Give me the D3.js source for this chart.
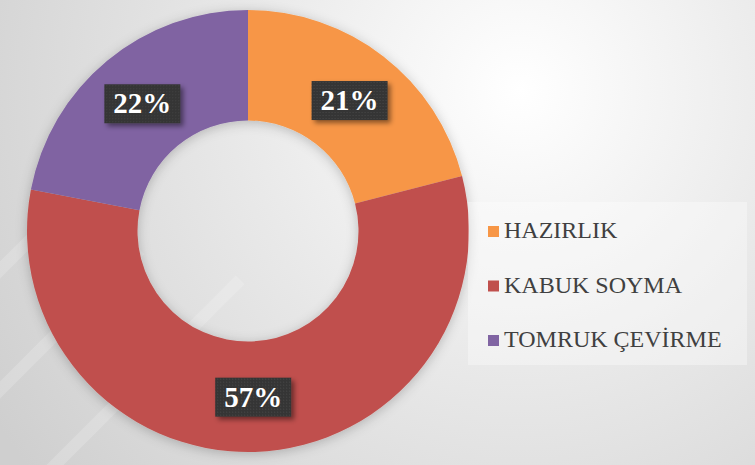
<!DOCTYPE html>
<html>
<head>
<meta charset="utf-8">
<script src="https://cdn.jsdelivr.net/npm/d3@7"></script>
<style>
  body { margin: 0; background: #fff; }
  svg { display: block; }
  .serif { font-family: "Liberation Serif", "Times New Roman", Tinos, "DejaVu Serif", serif; }
</style>
</head>
<body>
<div id="chart"></div>
<script>
// data
const categories = ["HAZIRLIK", "KABUK SOYMA", "TOMRUK ÇEVİRME"];
const values = [21, 57, 22];
const colors = ["#F79646", "#C0504D", "#8064A2"];

const width = 755, height = 465;
const cx = 248, cy = 231;
const outerR = 221, innerR = 110.5;

const svg = d3.select("#chart")
  .append("svg")
  .attr("width", width)
  .attr("height", height);

const defs = svg.append("defs");

// background gradient
const bg = defs.append("radialGradient")
  .attr("id", "bg")
  .attr("gradientUnits", "userSpaceOnUse")
  .attr("cx", 520).attr("cy", 90).attr("r", 620);
bg.append("stop").attr("offset", "0%").attr("stop-color", "#ffffff");
bg.append("stop").attr("offset", "45%").attr("stop-color", "#e9e9e9");
bg.append("stop").attr("offset", "100%").attr("stop-color", "#cfcfcf");

const shadow = defs.append("filter").attr("id", "shadow")
  .attr("x", "-20%").attr("y", "-20%").attr("width", "140%").attr("height", "140%");
shadow.append("feDropShadow")
  .attr("dx", 0).attr("dy", 2).attr("stdDeviation", 6)
  .attr("flood-color", "#000").attr("flood-opacity", 0.22);

const boxShadow = defs.append("filter").attr("id", "boxShadow")
  .attr("x", "-30%").attr("y", "-30%").attr("width", "160%").attr("height", "160%");
boxShadow.append("feDropShadow")
  .attr("dx", 3).attr("dy", 3).attr("stdDeviation", 2.5)
  .attr("flood-color", "#000").attr("flood-opacity", 0.45);

// dotted texture for label boxes
const pat = defs.append("pattern").attr("id", "dots")
  .attr("width", 3).attr("height", 3).attr("patternUnits", "userSpaceOnUse");
pat.append("rect").attr("width", 3).attr("height", 3).attr("fill", "#343434");
pat.append("rect").attr("width", 1).attr("height", 1).attr("fill", "#4a4a4a");

svg.append("rect")
  .attr("width", width).attr("height", height)
  .attr("fill", "url(#bg)");

// faint watermark stripes
const stripes = svg.append("g").attr("opacity", 0.18);
[[-60, 330], [-60, 450], [40, 480]].forEach(([x0, y0]) => {
  stripes.append("line")
    .attr("x1", x0).attr("y1", y0)
    .attr("x2", x0 + 200).attr("y2", y0 - 200)
    .attr("stroke", "#ffffff").attr("stroke-width", 12);
});

// donut
const pie = d3.pie().sort(null).value(d => d);
const arcs = pie(values);
const arc = d3.arc().innerRadius(innerR).outerRadius(outerR);

const g = svg.append("g").attr("transform", `translate(${cx},${cy})`);

g.append("g").attr("filter", "url(#shadow)")
  .selectAll("path")
  .data(arcs)
  .join("path")
  .attr("d", arc)
  .attr("fill", (d, i) => colors[i]);

// labels
const labels = g.selectAll("g.label")
  .data(arcs)
  .join("g")
  .attr("class", "label")
  .attr("transform", d => `translate(${arc.centroid(d)})`);

labels.append("rect")
  .attr("x", -38).attr("y", -19)
  .attr("width", 76).attr("height", 39)
  .attr("fill", "url(#dots)")
  .attr("filter", "url(#boxShadow)");

labels.append("text")
  .attr("class", "serif")
  .attr("text-anchor", "middle")
  .attr("dy", "0.35em")
  .attr("font-weight", "bold")
  .attr("font-size", 29)
  .attr("fill", "#ffffff")
  .text(d => Math.round(d.value / d3.sum(values) * 100) + "%");

// legend
const legend = svg.append("g");
legend.append("rect")
  .attr("x", 468).attr("y", 202)
  .attr("width", 279).attr("height", 163)
  .attr("fill", "#ffffff").attr("opacity", 0.35);

const rowY = d3.scalePoint().domain(categories).range([238, 347]);

const items = legend.selectAll("g.item")
  .data(categories)
  .join("g")
  .attr("class", "item")
  .attr("transform", d => `translate(488,${rowY(d)})`);

items.append("rect")
  .attr("x", 0).attr("y", -12)
  .attr("width", 11).attr("height", 11)
  .attr("fill", (d, i) => colors[i]);

items.append("text")
  .attr("class", "serif")
  .attr("x", 16)
  .attr("font-size", 24)
  .attr("fill", "#404040")
  .text(d => d);
</script>
</body>
</html>
